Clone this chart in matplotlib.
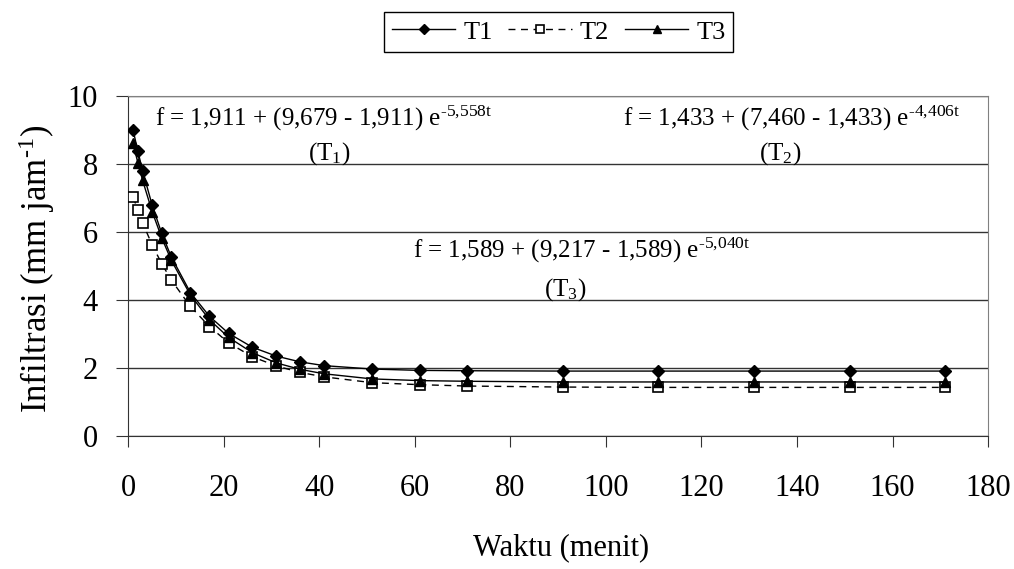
import numpy as np
import matplotlib
matplotlib.use("Agg")
import matplotlib.pyplot as plt

# Waktu (menit)
waktu = [1, 2, 3, 5, 7, 9, 13, 17, 21, 26, 31, 36, 41, 51, 61, 71, 91, 111, 131, 151, 171]

# Infiltrasi (mm jam-1)
t1 = [9.00, 8.38, 7.80, 6.79, 5.96, 5.27, 4.22, 3.52, 3.02, 2.61, 2.35, 2.18, 2.07, 1.97, 1.93, 1.92, 1.91, 1.91, 1.91, 1.91, 1.91]
t2 = [7.03, 6.66, 6.27, 5.62, 5.07, 4.59, 3.81, 3.22, 2.74, 2.33, 2.06, 1.87, 1.74, 1.57, 1.51, 1.47, 1.44, 1.43, 1.43, 1.43, 1.43]
t3 = [8.61, 8.04, 7.52, 6.60, 5.83, 5.17, 4.15, 3.42, 2.90, 2.45, 2.15, 1.96, 1.83, 1.68, 1.63, 1.61, 1.59, 1.59, 1.59, 1.59, 1.59]

plt.rcParams['font.family'] = ['Liberation Serif', 'DejaVu Serif']
plt.rcParams['mathtext.fontset'] = 'custom'
plt.rcParams['mathtext.rm'] = 'Liberation Serif'
plt.rcParams['mathtext.it'] = 'Liberation Serif:italic'

fig = plt.figure(figsize=(10.14, 5.69), dpi=100)
ax = fig.add_axes([0.1265, 0.2337, 0.8479, 0.5976])

ax.plot(waktu, t1, color='black', lw=1, marker='D', ms=6.5, mfc='black', mec='black', label='T1', zorder=4)
ax.plot(waktu, t2, color='black', lw=1, ls=(0, (5, 4)), marker='s', ms=6.5, mfc='white', mec='black', mew=1.2, label='T2', zorder=3)
ax.plot(waktu, t3, color='black', lw=1, marker='^', ms=7.5, mfc='black', mec='black', label='T3', zorder=5)

ax.set_xlim(0, 180)
ax.set_ylim(0, 10)
ax.set_xticks(np.arange(0, 181, 20))
ax.set_yticks(np.arange(0, 11, 2))
ax.yaxis.grid(True, color='#333333', lw=1)
ax.set_axisbelow(True)
ax.tick_params(axis='both', labelsize=22, direction='out', color='#333333')
ax.tick_params(axis='x', length=8, pad=19)
ax.tick_params(axis='y', length=9, pad=13)
for s in ['left', 'bottom']:
    ax.spines[s].set_color('#333333')
for s in ['top', 'right']:
    ax.spines[s].set_color('#808080')

fig.text(0.553, 0.037, 'Waktu (menit)', fontsize=22, ha='center', va='center')
fig.text(0.036, 0.527, 'Infiltrasi (mm jam$^{\\text{-1}}$)', fontsize=25, ha='center', va='center', rotation=90)

eq_size = 18
ax.text(40.8, 9.35, 'f = 1,911 + (9,679 - 1,911) e$^{\\text{-5,558t}}$', fontsize=eq_size, ha='center', va='center')
ax.text(42, 8.3, '(T$_{\\text{1}}$)', fontsize=eq_size, ha='center', va='center')
ax.text(138.8, 9.35, 'f = 1,433 + (7,460 - 1,433) e$^{\\text{-4,406t}}$', fontsize=eq_size, ha='center', va='center')
ax.text(136.5, 8.3, '(T$_{\\text{2}}$)', fontsize=eq_size, ha='center', va='center')
ax.text(95, 5.45, 'f = 1,589 + (9,217 - 1,589) e$^{\\text{-5,040t}}$', fontsize=eq_size, ha='center', va='center')
ax.text(91.4, 4.3, '(T$_{\\text{3}}$)', fontsize=eq_size, ha='center', va='center')

leg = fig.legend(loc='center', bbox_to_anchor=(0.551, 0.944), ncol=3, fontsize=19,
                 frameon=True, fancybox=False, edgecolor='black', framealpha=1,
                 handlelength=2.4, columnspacing=0.6, handletextpad=0.3, borderpad=0.3,
                 markerscale=0.85)
leg.get_frame().set_linewidth(1)

fig.savefig('out.png', dpi=100)
